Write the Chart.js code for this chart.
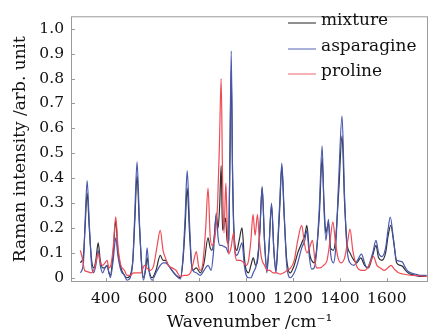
<!DOCTYPE html>
<html>
<head>
<meta charset="utf-8">
<script src="https://cdn.jsdelivr.net/npm/chart.js@4.4.1/dist/chart.umd.min.js"></script>
<style>
  html, body { margin: 0; padding: 0; background: #fff; }
  #wrap { width: 436px; height: 333px; }
</style>
</head>
<body>
<div id="wrap"><canvas id="chart" width="436" height="333"></canvas></div>
<script>
// Raman spectra
const seriesNames = ["mixture", "asparagine", "proline"];
const xTicks = [400, 600, 800, 1000, 1200, 1400, 1600];
const yTicks = [0, 0.1, 0.2, 0.3, 0.4, 0.5, 0.6, 0.7, 0.8, 0.9, 1.0];

const mixtureX = [292, 305, 312, 321, 330, 340, 349, 358, 368, 377, 387, 397, 406, 414, 420, 432, 443, 452, 465, 480, 491, 505, 516, 524, 534, 544, 554, 562, 570, 577, 585, 598, 615, 633, 645, 655, 668, 683, 700, 719, 730, 739, 748, 758, 766, 772, 787, 804, 820, 837, 846, 854, 864, 872, 880, 887, 893, 899, 905, 912, 919, 925, 930, 936, 942, 950, 960, 970, 982, 992, 1000, 1010, 1020, 1030, 1040, 1050, 1058, 1068, 1078, 1088, 1097, 1108, 1118, 1127, 1136, 1143, 1152, 1162, 1172, 1180, 1188, 1205, 1220, 1237, 1250, 1259, 1270, 1279, 1290, 1300, 1312, 1324, 1332, 1340, 1351, 1360, 1372, 1382, 1395, 1409, 1420, 1430, 1443, 1460, 1472, 1489, 1505, 1522, 1540, 1554, 1565, 1579, 1595, 1606, 1617, 1630, 1642, 1657, 1668, 1680, 1699, 1720, 1740, 1770];
const mixtureY = [0.06, 0.09, 0.20, 0.34, 0.20, 0.07, 0.04, 0.07, 0.14, 0.07, 0.04, 0.04, 0.05, 0.02, 0.01, 0.10, 0.23, 0.11, 0.04, 0.01, 0.00, 0.01, 0.07, 0.22, 0.41, 0.21, 0.05, 0.00, 0.03, 0.08, 0.03, 0.00, 0.03, 0.09, 0.07, 0.07, 0.05, 0.03, 0.01, 0.00, 0.07, 0.20, 0.36, 0.18, 0.06, 0.03, 0.04, 0.02, 0.06, 0.16, 0.12, 0.11, 0.17, 0.25, 0.20, 0.30, 0.45, 0.19, 0.21, 0.24, 0.14, 0.15, 0.45, 0.83, 0.40, 0.15, 0.11, 0.15, 0.20, 0.08, 0.03, 0.02, 0.05, 0.08, 0.05, 0.08, 0.19, 0.36, 0.15, 0.04, 0.12, 0.29, 0.11, 0.03, 0.15, 0.28, 0.445, 0.25, 0.08, 0.03, 0.02, 0.05, 0.10, 0.14, 0.17, 0.21, 0.10, 0.07, 0.06, 0.11, 0.25, 0.48, 0.30, 0.18, 0.22, 0.12, 0.11, 0.16, 0.35, 0.57, 0.30, 0.14, 0.10, 0.07, 0.06, 0.08, 0.05, 0.04, 0.09, 0.13, 0.08, 0.07, 0.10, 0.17, 0.21, 0.14, 0.06, 0.05, 0.045, 0.03, 0.015, 0.01, 0.005, 0.005];

const asparagineX = [292, 305, 312, 321, 330, 340, 349, 358, 368, 377, 387, 397, 406, 414, 420, 432, 443, 452, 465, 480, 491, 505, 516, 524, 534, 544, 554, 562, 570, 577, 585, 598, 615, 633, 645, 655, 668, 683, 700, 719, 730, 739, 748, 758, 766, 772, 787, 804, 820, 837, 850, 860, 872, 880, 887, 895, 905, 915, 924, 930, 936, 942, 950, 960, 970, 982, 992, 1000, 1010, 1020, 1030, 1045, 1058, 1068, 1078, 1088, 1097, 1108, 1118, 1127, 1136, 1143, 1152, 1162, 1172, 1180, 1188, 1205, 1220, 1237, 1250, 1259, 1270, 1279, 1290, 1300, 1312, 1324, 1332, 1340, 1351, 1360, 1372, 1382, 1395, 1409, 1420, 1430, 1443, 1460, 1475, 1492, 1505, 1515, 1540, 1554, 1565, 1579, 1595, 1605, 1615, 1628, 1642, 1664, 1680, 1692, 1720, 1740, 1770];
const asparagineY = [0.02, 0.06, 0.22, 0.39, 0.22, 0.05, 0.02, 0.05, 0.11, 0.05, 0.02, 0.04, 0.05, 0.02, 0.00, 0.07, 0.16, 0.09, 0.03, 0.01, -0.01, 0.00, 0.07, 0.25, 0.465, 0.23, 0.04, -0.01, 0.04, 0.12, 0.03, -0.01, 0.02, 0.05, 0.06, 0.06, 0.05, 0.03, 0.01, -0.005, 0.08, 0.24, 0.43, 0.22, 0.06, 0.03, 0.02, 0.01, 0.03, 0.05, 0.03, 0.10, 0.26, 0.16, 0.13, 0.13, 0.125, 0.12, 0.10, 0.45, 0.91, 0.40, 0.12, 0.09, 0.11, 0.14, 0.05, 0.01, 0.00, 0.00, 0.02, 0.06, 0.18, 0.367, 0.15, 0.02, 0.12, 0.30, 0.11, 0.02, 0.17, 0.30, 0.46, 0.26, 0.06, 0.01, 0.00, 0.02, 0.06, 0.12, 0.15, 0.19, 0.08, 0.035, 0.04, 0.10, 0.28, 0.53, 0.28, 0.15, 0.235, 0.10, 0.06, 0.12, 0.40, 0.65, 0.32, 0.12, 0.06, 0.05, 0.07, 0.095, 0.06, 0.04, 0.10, 0.15, 0.10, 0.085, 0.12, 0.19, 0.244, 0.16, 0.07, 0.065, 0.04, 0.025, 0.015, 0.01, 0.01];

const prolineX = [292, 300, 310, 321, 338, 349, 358, 368, 377, 387, 397, 406, 414, 422, 432, 443, 453, 465, 480, 491, 505, 520, 534, 550, 566, 575, 590, 605, 620, 633, 645, 655, 668, 683, 700, 719, 733, 748, 762, 774, 787, 796, 804, 815, 827, 837, 846, 854, 866, 878, 886, 893, 899, 905, 913, 919, 925, 935, 946, 952, 960, 975, 990, 1000, 1010, 1020, 1029, 1038, 1048, 1056, 1065, 1078, 1090, 1100, 1115, 1130, 1145, 1160, 1175, 1190, 1205, 1220, 1237, 1248, 1259, 1270, 1283, 1292, 1300, 1315, 1330, 1345, 1358, 1370, 1380, 1392, 1405, 1420, 1432, 1443, 1455, 1470, 1490, 1507, 1525, 1543, 1558, 1571, 1590, 1605, 1618, 1632, 1650, 1670, 1700, 1740, 1770];
const prolineY = [0.11, 0.08, 0.03, 0.025, 0.02, 0.03, 0.06, 0.10, 0.06, 0.05, 0.06, 0.07, 0.04, 0.05, 0.12, 0.245, 0.12, 0.05, 0.03, 0.01, 0.01, 0.02, 0.02, 0.02, 0.05, 0.04, 0.03, 0.05, 0.13, 0.19, 0.11, 0.08, 0.05, 0.04, 0.03, 0.005, 0.01, 0.01, 0.02, 0.06, 0.105, 0.05, 0.03, 0.06, 0.20, 0.36, 0.17, 0.13, 0.16, 0.30, 0.55, 0.80, 0.40, 0.18, 0.38, 0.20, 0.095, 0.12, 0.18, 0.10, 0.07, 0.07, 0.06, 0.05, 0.07, 0.15, 0.255, 0.17, 0.255, 0.15, 0.08, 0.05, 0.03, 0.03, 0.02, 0.02, 0.015, 0.02, 0.03, 0.04, 0.07, 0.15, 0.21, 0.14, 0.10, 0.12, 0.15, 0.08, 0.04, 0.04, 0.05, 0.07, 0.15, 0.225, 0.15, 0.08, 0.06, 0.08, 0.14, 0.195, 0.11, 0.05, 0.03, 0.03, 0.05, 0.085, 0.05, 0.04, 0.03, 0.04, 0.05, 0.035, 0.02, 0.015, 0.01, 0.008, 0.005];

const colors = ["#2f2f33", "#4657ad", "#ee4b55"];
const legendColors = ["#6b6b6b", "#8b97cf", "#f29aa0"];
const FONT = "'DejaVu Serif', 'Liberation Serif', serif";

const toPoints = (xs, ys) => xs.map((x, i) => ({ x: x, y: ys[i] }));

// frame, inward tick marks and legend
const framePlugin = {
  id: "frame",
  afterDraw: (chart) => {
    const { ctx, chartArea: a, scales } = chart;
    ctx.save();
    ctx.strokeStyle = "#9a9a9a";
    ctx.lineWidth = 1;
    ctx.strokeRect(a.left + 0.5, a.top + 0.5, a.right - a.left - 1, a.bottom - a.top - 1);
    ctx.beginPath();
    xTicks.forEach((v) => {
      const px = Math.round(scales.x.getPixelForValue(v)) + 0.5;
      ctx.moveTo(px, a.bottom);
      ctx.lineTo(px, a.bottom - 4);
    });
    yTicks.forEach((v) => {
      const py = Math.round(scales.y.getPixelForValue(v)) + 0.5;
      ctx.moveTo(a.left, py);
      ctx.lineTo(a.left + 4, py);
    });
    ctx.stroke();

    ctx.font = "17px " + FONT;
    ctx.textBaseline = "middle";
    ctx.fillStyle = "#111";
    seriesNames.forEach((name, i) => {
      const y = Math.round(21 + i * 25.5);
      ctx.beginPath();
      ctx.strokeStyle = legendColors[i];
      ctx.lineWidth = 1.5;
      ctx.moveTo(288, y + 2);
      ctx.lineTo(316, y + 2);
      ctx.stroke();
      ctx.fillText(name, 321, y);
    });
    ctx.restore();
  },
};

new Chart(document.getElementById("chart"), {
  type: "line",
  data: {
    datasets: [
      { label: seriesNames[2], data: toPoints(prolineX, prolineY), borderColor: colors[2] },
      { label: seriesNames[1], data: toPoints(asparagineX, asparagineY), borderColor: colors[1] },
      { label: seriesNames[0], data: toPoints(mixtureX, mixtureY), borderColor: colors[0] },
    ],
  },
  options: {
    responsive: false,
    animation: false,
    layout: { padding: { top: 8, right: 8, left: 0, bottom: 0 } },
    elements: {
      point: { radius: 0 },
      line: { borderWidth: 1.2, cubicInterpolationMode: "monotone", fill: false },
    },
    scales: {
      x: {
        type: "linear",
        min: 252,
        max: 1776,
        afterBuildTicks: (axis) => { axis.ticks = xTicks.map((v) => ({ value: v })); },
        afterFit: (axis) => { axis.height = 51; },
        grid: { display: false, drawTicks: false },
        border: { display: false },
        ticks: {
          padding: 8,
          color: "#111",
          font: { family: FONT, size: 15.5 },
          callback: (v) => String(v),
        },
        title: {
          display: true,
          text: "Wavenumber /cm⁻¹",
          color: "#111",
          font: { family: FONT, size: 17 },
          padding: { top: 0, bottom: 0 },
        },
      },
      y: {
        type: "linear",
        min: -0.017,
        max: 1.05,
        afterBuildTicks: (axis) => { axis.ticks = yTicks.map((v) => ({ value: v })); },
        afterFit: (axis) => { axis.width = 71; },
        grid: { display: false, drawTicks: false },
        border: { display: false },
        ticks: {
          padding: 7,
          color: "#111",
          font: { family: FONT, size: 15.5 },
          callback: (v) => (v === 0 ? "0" : v.toFixed(1)),
        },
        title: {
          display: true,
          text: "Raman intensity /arb. unit",
          color: "#111",
          font: { family: FONT, size: 17 },
          padding: { top: 10, bottom: 0 },
        },
      },
    },
    plugins: {
      legend: { display: false },
      tooltip: { enabled: false },
    },
  },
  plugins: [framePlugin],
});
</script>
</body>
</html>
